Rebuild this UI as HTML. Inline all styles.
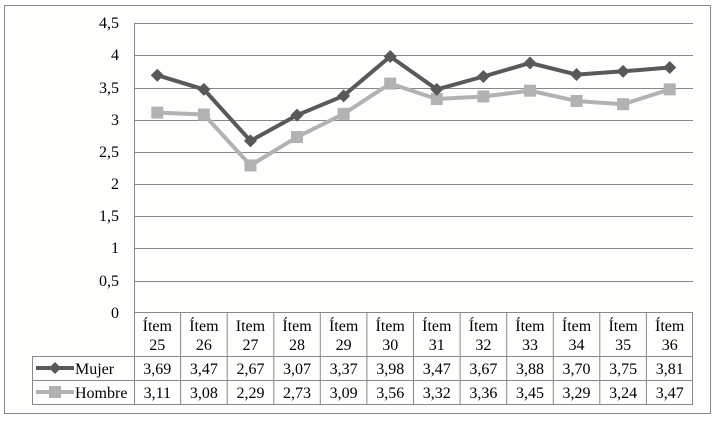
<!DOCTYPE html><html><head><style>body{margin:0;background:#fff} svg text{font-family:"Liberation Serif","Times New Roman","DejaVu Serif",serif !important;font-size:16px}</style></head><body>
<svg width="715" height="420" xmlns="http://www.w3.org/2000/svg" font-family="Liberation Serif" fill="#000">
<rect x="0" y="0" width="715" height="420" fill="#fff"/>
<rect x="4.5" y="5.5" width="706" height="408" fill="#fefefc" stroke="#888" stroke-width="1"/>
<g stroke="#888" stroke-width="1">
<line x1="134" y1="23.5" x2="693" y2="23.5"/><line x1="134" y1="55.5" x2="693" y2="55.5"/><line x1="134" y1="88.5" x2="693" y2="88.5"/><line x1="134" y1="120.5" x2="693" y2="120.5"/><line x1="134" y1="152.5" x2="693" y2="152.5"/><line x1="134" y1="184.5" x2="693" y2="184.5"/><line x1="134" y1="216.5" x2="693" y2="216.5"/><line x1="134" y1="248.5" x2="693" y2="248.5"/><line x1="134" y1="281.5" x2="693" y2="281.5"/><line x1="134" y1="312.5" x2="693" y2="312.5"/>
<line x1="134.5" y1="23" x2="134.5" y2="404"/>
<line x1="692.5" y1="312" x2="692.5" y2="404"/>
<line x1="32" y1="356.5" x2="693" y2="356.5"/><line x1="32" y1="380.5" x2="693" y2="380.5"/><line x1="32" y1="404.5" x2="693" y2="404.5"/>
<line x1="32.5" y1="356" x2="32.5" y2="404"/>
</g>
<g text-anchor="end"><text x="119" y="28">4,5</text><text x="119" y="60">4</text><text x="119" y="93">3,5</text><text x="119" y="125">3</text><text x="119" y="157">2,5</text><text x="119" y="189">2</text><text x="119" y="221">1,5</text><text x="119" y="253">1</text><text x="119" y="286">0,5</text><text x="119" y="318">0</text></g>
<g id="g"></g>
<text x="75" y="374">Mujer</text><text x="75" y="398">Hombre</text>
<line x1="36" y1="368" x2="74" y2="368" stroke="#595959" stroke-width="4"/><path d="M55 362 L61 368 L55 374 L49 368Z" fill="#595959"/>
<line x1="36" y1="392" x2="74" y2="392" stroke="#b2b2b2" stroke-width="4"/><rect x="49" y="386" width="12" height="12" fill="#b2b2b2"/>
</svg>
<script>
var m=[3.69,3.47,2.67,3.07,3.37,3.98,3.47,3.67,3.88,3.70,3.75,3.81],h=[3.11,3.08,2.29,2.73,3.09,3.56,3.32,3.36,3.45,3.29,3.24,3.47];
var g=document.getElementById('g'),s="";
var w=(693-134)/12;
function yy(v){return 313-v*(290/4.5);}
for(var i=0;i<12;i++){var x=134+w*i,c=x+w/2;
if(i>0)s+=`<line x1="${x.toFixed(1)}" y1="312" x2="${x.toFixed(1)}" y2="404" stroke="#888"/>`;
s+=`<text x="${c}" y="331" text-anchor="middle">${i==2?'Item':'Ítem'}</text><text x="${c}" y="350" text-anchor="middle">${25+i}</text>`;
s+=`<text x="${c}" y="374" text-anchor="middle">${m[i].toFixed(2).replace('.',',')}</text><text x="${c}" y="398" text-anchor="middle">${h[i].toFixed(2).replace('.',',')}</text>`;}
var pm=m.map((v,i)=>(134+w*(i+.5)).toFixed(1)+","+yy(v).toFixed(1)).join(" ");
var ph=h.map((v,i)=>(134+w*(i+.5)).toFixed(1)+","+yy(v).toFixed(1)).join(" ");
s+=`<polyline points="${ph}" fill="none" stroke="#b2b2b2" stroke-width="4"/>`;
h.forEach((v,i)=>{var x=134+w*(i+.5),y=yy(v);s+=`<rect x="${x-6}" y="${y-6}" width="12" height="12" fill="#b2b2b2"/>`;});
s+=`<polyline points="${pm}" fill="none" stroke="#595959" stroke-width="4"/>`;
m.forEach((v,i)=>{var x=134+w*(i+.5),y=yy(v);s+=`<path d="M${x} ${y-6.5} L${x+6.5} ${y} L${x} ${y+6.5} L${x-6.5} ${y}Z" fill="#595959"/>`;});
g.innerHTML=s;
</script>
</body></html>
